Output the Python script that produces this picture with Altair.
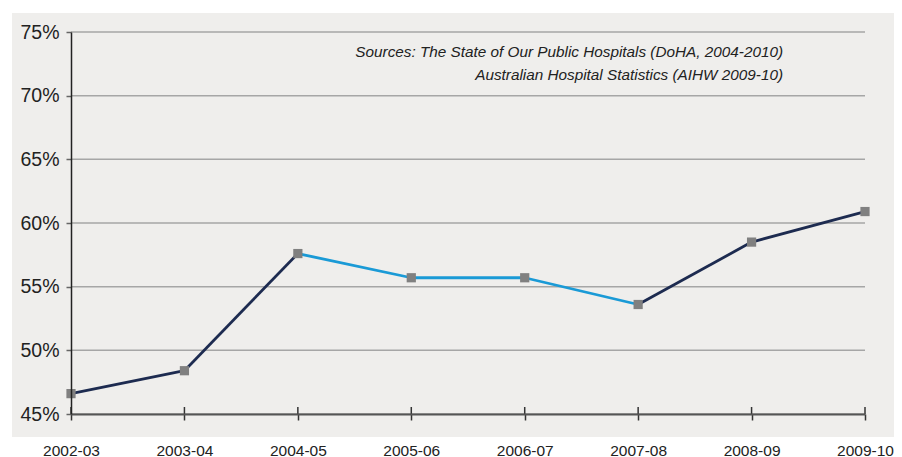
import altair as alt
import pandas as pd

years = ["2002-03", "2003-04", "2004-05", "2005-06", "2006-07", "2007-08", "2008-09", "2009-10"]
values = [46.6, 48.4, 57.6, 55.7, 55.7, 53.6, 58.5, 60.9]
segment_colors = ["#1d2b50", "#1d2b50", "#1a9ad6", "#1a9ad6", "#1a9ad6", "#1d2b50", "#1d2b50"]
y_ticks = [45, 50, 55, 60, 65, 70, 75]
source_lines = [
    "Sources: The State of Our Public Hospitals (DoHA, 2004-2010)",
    "Australian Hospital Statistics (AIHW 2009-10)",
]

W, H = 794, 382
REG = "'Liberation Sans', Arial, sans-serif"

pts = pd.DataFrame({"year": years, "value": values})
seg_rows = []
for i, c in enumerate(segment_colors):
    for j in (i, i + 1):
        seg_rows.append({"seg": i, "order": j, "year": years[j], "value": values[j], "color": c})
segs = pd.DataFrame(seg_rows)
grid = pd.DataFrame({"v": y_ticks})
ticks = pd.DataFrame({"year": years})

x_scale = alt.Scale(domain=years, type="point", padding=0)
y_scale = alt.Scale(domain=[45, 75], nice=False, zero=False)

x_axis = alt.Axis(
    title=None, labelAngle=0, labelFontSize=15.5, labelFont=REG, labelColor="#222",
    labelPadding=23, tickSize=6, tickColor="#333", tickWidth=1.5,
    domainColor="#555", domainWidth=2, grid=False, zindex=1,
)
y_axis = alt.Axis(
    title=None, values=y_ticks, labelExpr="datum.value + '%'", labelFontSize=19.5,
    labelFont=REG, labelColor="#222", labelPadding=7, tickSize=5, tickColor="#666",
    tickWidth=1.5, domainColor="#222", domainWidth=1.5, grid=False, zindex=1,
)

panel = alt.Chart(pd.DataFrame({"a": [0]})).mark_rect(color="#efeeec").encode(
    x=alt.value(-59), x2=alt.value(W + 40), y=alt.value(-19), y2=alt.value(H + 23)
)

gridlines = alt.Chart(grid).mark_rule(color="#a6a6a6", strokeWidth=1.5).encode(
    y=alt.Y("v:Q", scale=y_scale, axis=y_axis), x=alt.value(0), x2=alt.value(W)
)

lines = alt.Chart(segs).mark_line(strokeWidth=2.8).encode(
    x=alt.X("year:O", scale=x_scale, axis=x_axis),
    y=alt.Y("value:Q", scale=y_scale, axis=y_axis),
    detail="seg:N",
    order="order:Q",
    color=alt.Color("color:N", scale=None),
)

points = alt.Chart(pts).mark_point(shape="square", filled=True, size=85, color="#808080", opacity=1).encode(
    x=alt.X("year:O", scale=x_scale),
    y=alt.Y("value:Q", scale=y_scale),
)

upticks = alt.Chart(ticks).mark_rule(color="#333", strokeWidth=1.5).encode(
    x=alt.X("year:O", scale=x_scale), y=alt.value(H - 7), y2=alt.value(H)
)

sources = alt.Chart(pd.DataFrame({"a": [0]})).mark_text(
    text=source_lines, align="right", baseline="middle", font=REG, fontStyle="italic",
    fontSize=15.3, lineHeight=23, color="#222",
).encode(x=alt.value(712), y=alt.value(20))

chart = alt.layer(panel, gridlines, lines, points, upticks, sources).properties(
    width=W, height=H,
    autosize=alt.AutoSizeParams(type="none"),
    padding={"left": 63, "top": 24, "right": 29, "bottom": 52},
    background="white",
).configure_view(stroke=None)

chart.save("out.html", embed_options={"renderer": "svg", "actions": False})
